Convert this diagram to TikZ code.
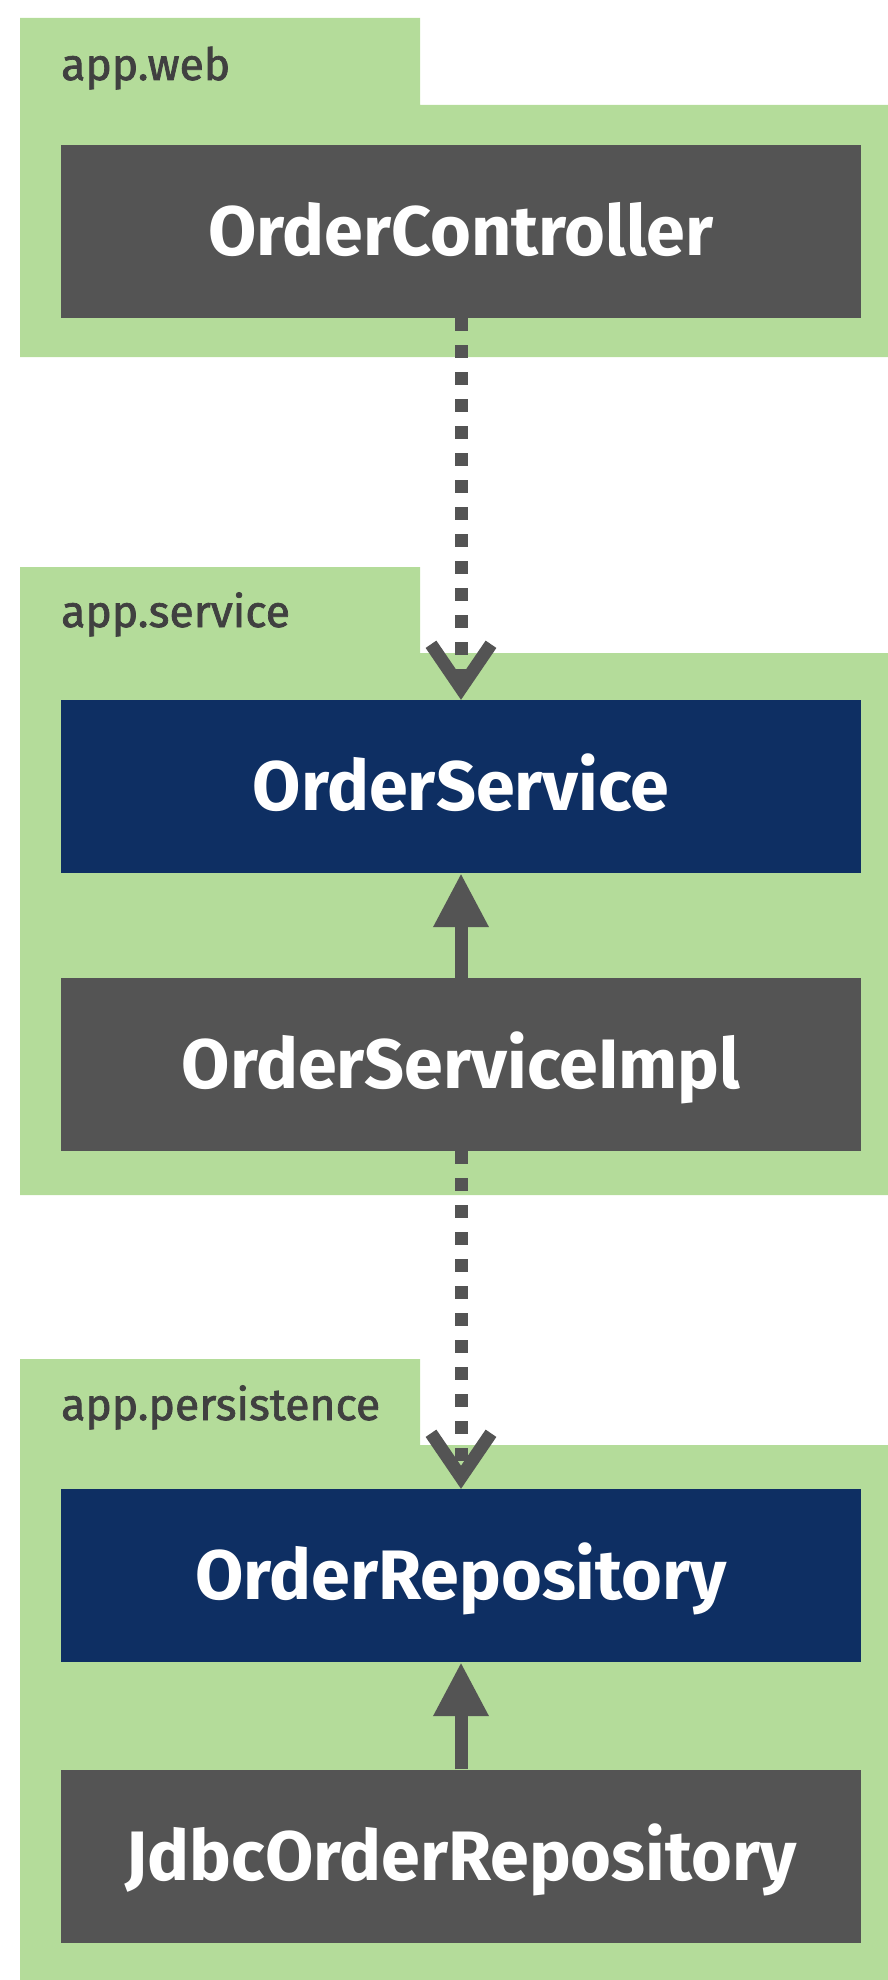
\documentclass[tikz,border=0pt]{standalone}
\usepackage{fontspec}
\setmainfont{Fira Sans}
\newfontfamily\pkgfont{Fira Sans}[FakeBold=1.6]
\usetikzlibrary{arrows.meta}
\definecolor{pkggreen}{HTML}{B4DC9A}
\definecolor{ifacenavy}{HTML}{0E2F63}
\definecolor{classgray}{HTML}{545454}
\definecolor{labelgray}{HTML}{404040}
\tikzset{
  classbox/.style={rectangle, fill=classgray, text=white, minimum width=800pt, minimum height=173pt, inner sep=0pt, font=\fontsize{70}{80}\selectfont\bfseries, text height=48pt, text depth=0pt},
  ifacebox/.style={classbox, fill=ifacenavy},
  pkglabel/.style={anchor=base west, inner sep=0pt, text=labelgray, font=\fontsize{44.5}{50}\pkgfont},
  uses/.style={line width=13pt, draw=classgray, dash pattern=on 13pt off 14pt, -{Straight Barb[length=44pt,width=60pt]}},
  realizes/.style={line width=13pt, draw=classgray, -{Triangle[length=54pt,width=52pt]}}
}
\begin{document}
\begin{tikzpicture}[x=1pt, y=-1pt]
      \useasboundingbox (0,0) rectangle (888,1980);
      \fill[pkggreen] (20,18) -- (420,18) -- (420,105) -- (888,105) -- (888,357) -- (20,357) -- cycle;
      \fill[pkggreen] (20,567) -- (420,567) -- (420,653) -- (888,653) -- (888,1195) -- (20,1195) -- cycle;
      \fill[pkggreen] (20,1359) -- (420,1359) -- (420,1445) -- (888,1445) -- (888,1980) -- (20,1980) -- cycle;
      \node[pkglabel] (web) at (61,80) {app.web};
      \node[pkglabel] (service) at (61,627) {app.service};
      \node[pkglabel] (persistence) at (61,1420) {app.persistence};
      \node[classbox] (ctrl) at (461,231.5) {OrderController};
      \node[ifacebox] (svc) at (461,786.5) {OrderService};
      \node[classbox] (svcimpl) at (461,1064.5) {OrderServiceImpl};
      \node[ifacebox] (repo) at (461,1575.5) {OrderRepository};
      \node[classbox] (jdbcrepo) at (461,1856) {JdbcOrderRepository};
      \draw[uses] (ctrl) -- (svc);
      \draw[realizes] (svcimpl) -- (svc);
      \draw[uses] (svcimpl) -- (repo);
      \draw[realizes] (jdbcrepo) -- (repo);
    \end{tikzpicture}
\end{document}
